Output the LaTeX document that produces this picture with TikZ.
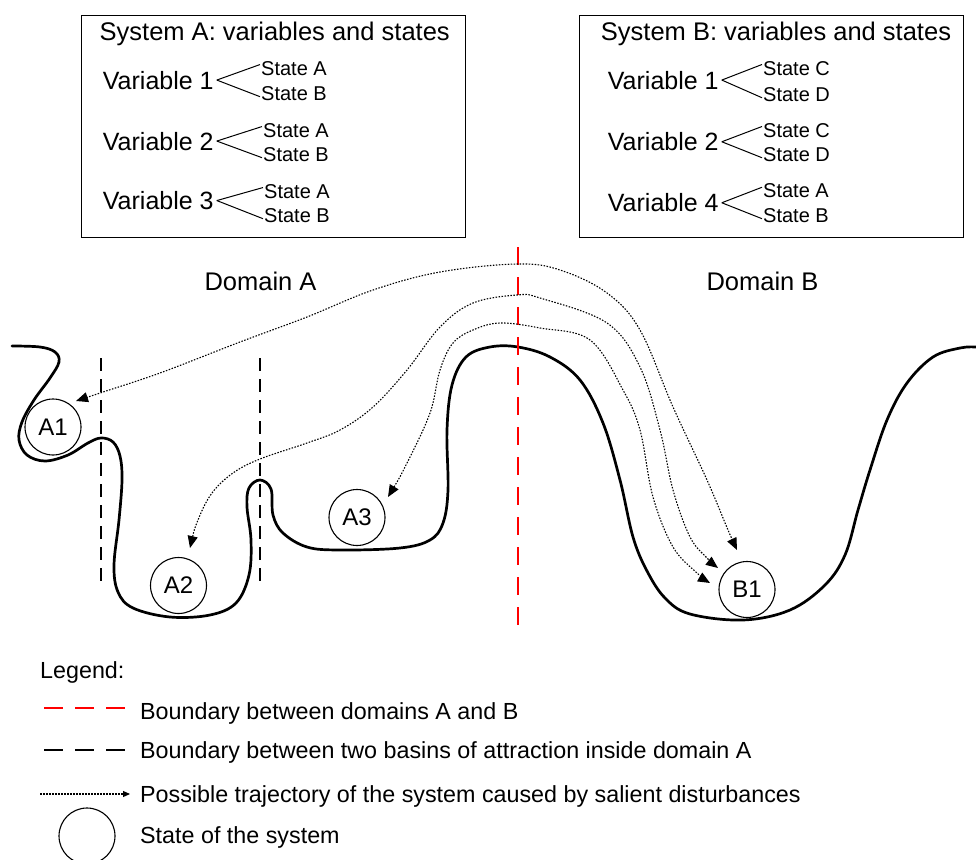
\documentclass[tikz,border=0pt]{standalone}
\usepackage{fontspec}
\setmainfont{Liberation Sans}
\usetikzlibrary{arrows.meta}

\begin{document}
\begin{tikzpicture}[x=1pt,y=-1pt,
  box/.style={draw, line width=1.4pt, inner sep=0pt},
  big/.style={font=\fontsize{25.5}{30}\selectfont, inner sep=0pt},
  varlbl/.style={font=\fontsize{25}{30}\selectfont, anchor=base west, inner xsep=3pt, inner ysep=0pt},
  stlbl/.style={font=\fontsize{20}{24}\selectfont, anchor=base west, inner xsep=1pt, inner ysep=0pt},
  lgd/.style={font=\fontsize{23.3}{27}\selectfont, inner sep=0pt, anchor=base west},
  statenode/.style={draw, circle, line width=1.1pt, minimum size=56pt, inner sep=0pt, font=\fontsize{24}{28}\selectfont},
  ground/.style={line width=2.7pt, line join=round, line cap=round},
  basin/.style={line width=2.4pt, dash pattern=on 13pt off 8pt},
  domainline/.style={red, line width=2.4pt, dash pattern=on 18pt off 12pt},
  lgdash/.style={line width=2.2pt, dash pattern=on 19pt off 12pt},
  traj/.style={line width=1.1pt, dash pattern=on 1.5pt off 1.5pt,
    {Triangle[length=12pt,width=10pt]}-{Triangle[length=12pt,width=10pt]}},
  lgtraj/.style={line width=1.1pt, dash pattern=on 1.5pt off 1.5pt,
    -{Triangle[length=7pt,width=6pt]}},
  fork/.style={line width=1pt}
]
\useasboundingbox (0,0) rectangle (976,859);

% ---------- variable panels ----------
\node[box, anchor=north west, minimum width=384pt, minimum height=222pt] (boxA) at (81,15) {};
\node[box, anchor=north west, minimum width=384pt, minimum height=222pt] (boxB) at (579,15) {};

\node[big, anchor=base] (titleA) at (274.7,41) {System A: variables and states};
\node[big, anchor=base] (titleB) at (776,41) {System B: variables and states};

% system A
\node[varlbl] (a1) at (99.7,89) {Variable 1};
\node[stlbl] (a1s) at (260,75) {State A};
\node[stlbl] (a1t) at (260,100) {State B};
\draw[fork] (a1.east) -- (a1s.174);
\draw[fork] (a1.east) -- (a1t.186);

\node[varlbl] (a2) at (99.7,150) {Variable 2};
\node[stlbl] (a2s) at (262,137) {State A};
\node[stlbl] (a2t) at (262,161) {State B};
\draw[fork] (a2.east) -- (a2s.174);
\draw[fork] (a2.east) -- (a2t.186);

\node[varlbl] (a3) at (99.7,209.5) {Variable 3};
\node[stlbl] (a3s) at (263,198) {State A};
\node[stlbl] (a3t) at (263,222) {State B};
\draw[fork] (a3.east) -- (a3s.174);
\draw[fork] (a3.east) -- (a3t.186);

% system B
\node[varlbl] (b1v) at (604.7,89) {Variable 1};
\node[stlbl] (b1s) at (762,75) {State C};
\node[stlbl] (b1t) at (762,101) {State D};
\draw[fork] (b1v.east) -- (b1s.174);
\draw[fork] (b1v.east) -- (b1t.186);

\node[varlbl] (b2v) at (604.7,150.7) {Variable 2};
\node[stlbl] (b2s) at (762,137) {State C};
\node[stlbl] (b2t) at (762,161) {State D};
\draw[fork] (b2v.east) -- (b2s.174);
\draw[fork] (b2v.east) -- (b2t.186);

\node[varlbl] (b4v) at (604.7,211.7) {Variable 4};
\node[stlbl] (b4s) at (762,197.7) {State A};
\node[stlbl] (b4t) at (762,222) {State B};
\draw[fork] (b4v.east) -- (b4s.174);
\draw[fork] (b4v.east) -- (b4t.186);

% ---------- domains ----------
\node[big, anchor=base] (domA) at (260.5,290) {Domain A};
\node[big, anchor=base] (domB) at (762.5,290) {Domain B};

% landscape
\draw[ground] plot[smooth, tension=0.6] coordinates {
  (12,346) (40,347) (55,352) (59,362) (50,378) (34,400) (22,422) (19,440)
  (27,455) (45,461) (68,455) (88,443) (101,438) (113,442) (120,456) (122,480)
  (119,520) (114,565) (118,592) (133,608) (170,617) (210,615) (236,603)
  (249,575) (251,540) (247,507) (249,488) (260,480) (271,489) (273,515)
  (283,533) (307,547) (340,550) (400,548) (430,540) (443,523) (448,490)
  (447,430) (452,385) (466,357) (490,347) (518,347) (550,357) (580,380)
  (603,423) (620,480) (633,537) (647,571) (665,598) (690,614) (743,620)
  (790,610) (825,585) (845,555) (858,510) (870,470) (887,420) (907,383)
  (933,357) (960,348) (976,347)};

% basin boundaries
\coordinate (b1top) at (101,358);
\coordinate (b1bot) at (101,588);
\coordinate (b2top) at (260,358);
\coordinate (b2bot) at (260,588);
\draw[basin] (b1top) -- (b1bot);
\draw[basin] (b2top) -- (b2bot);

% domain boundary
\coordinate (rtop) at (518,247);
\coordinate (rbot) at (518,632);
\draw[domainline] (rtop) -- (rbot);

% states
\node[statenode] (A1) at (53,427) {A1};
\node[statenode] (A2) at (178.5,585.5) {A2};
\node[statenode] (A3) at (357,517.5) {A3};
\node[statenode] (B1) at (747,589.5) {B1};

% trajectories
\coordinate (t1a) at (76,401);
\coordinate (t1b) at (737,550);
\coordinate (t2a) at (190,548);
\coordinate (t2b) at (718,568);
\coordinate (t3a) at (388,497);
\coordinate (t3b) at (710,583);
\draw[traj] plot[smooth, tension=0.6] coordinates {
  (t1a) (100,393) (160,373) (240,342) (307,317) (373,290) (440,272)
  (517,264) (560,270) (607,293) (640,330) (673,407) (707,480) (728,530) (t1b)};
\draw[traj] plot[smooth, tension=0.6] coordinates {
  (t2a) (198,520) (212,493) (233,473) (260,459) (307,443) (340,430)
  (373,407) (407,370) (440,327) (473,303) (517,295) (540,298) (607,323)
  (640,367) (660,430) (673,490) (690,537) (707,558) (t2b)};
\draw[traj] plot[smooth, tension=0.6] coordinates {
  (t3a) (407,463) (430,413) (440,370) (453,343) (473,330) (500,323)
  (540,328) (590,340) (623,390) (640,430) (653,497) (673,547) (697,573) (t3b)};

% ---------- legend ----------
\node[lgd] (lgtitle) at (40,678) {Legend:};

\coordinate (lr1) at (44,708);
\coordinate (lr2) at (125,708);
\draw[lgdash, red] (lr1) -- (lr2);
\node[lgd] (lgt1) at (140,719) {Boundary between domains A and B};

\coordinate (lk1) at (44,750);
\coordinate (lk2) at (125,750);
\draw[lgdash] (lk1) -- (lk2);
\node[lgd] (lgt2) at (140,758) {Boundary between two basins of attraction inside domain A};

\coordinate (la1) at (40,794);
\coordinate (la2) at (130,794);
\draw[lgtraj] (la1) -- (la2);
\node[lgd] (lgt3) at (140,802) {Possible trajectory of the system caused by salient disturbances};

\node[statenode] (lgc) at (87,836) {};
\node[lgd] (lgt4) at (140,843) {State of the system};
\end{tikzpicture}
\end{document}
